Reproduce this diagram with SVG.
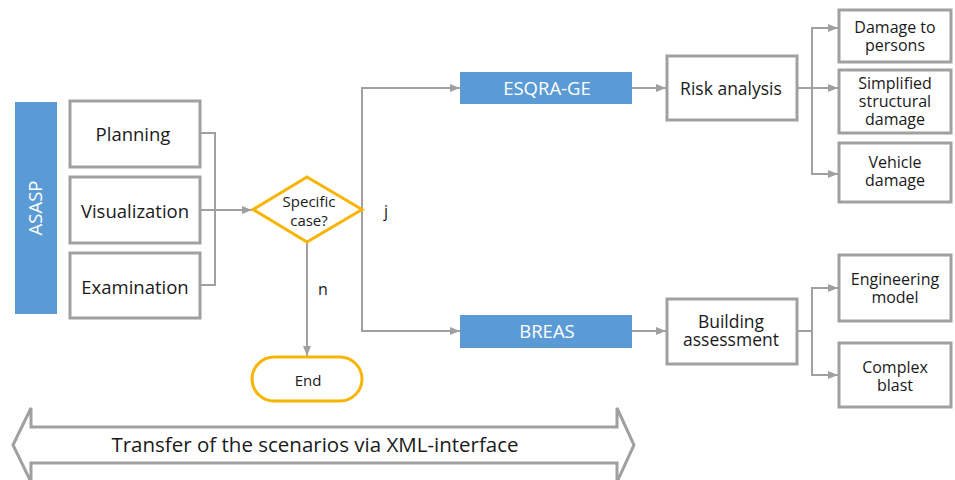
<svg xmlns="http://www.w3.org/2000/svg" width="955" height="480" viewBox="0 0 955 480">
<defs>
<marker id="ah" markerWidth="10" markerHeight="8" refX="10" refY="4" orient="auto" markerUnits="userSpaceOnUse">
<path d="M0,0 L10,4 L0,8 Z" fill="#a0a0a0"/>
</marker>
<style>
text{font-family:"Open Sans","Noto Sans",sans-serif;fill:#1a1a1a;text-anchor:middle}
.box{fill:#fff;stroke:#a0a0a0;stroke-width:3}
.blue{fill:#5b9bd5}
.bt{fill:#fff;font-size:18.5px}
.yl{fill:#fff;stroke:#f7b500;stroke-width:3}
.ln{fill:none;stroke:#a0a0a0;stroke-width:2}
.arr{fill:none;stroke:#a0a0a0;stroke-width:2;marker-end:url(#ah)}
.t18{font-size:18.5px}
.t17{font-size:17.5px}
.t15{font-size:16px}
.t14{font-size:15px}
</style>
</defs>
<rect width="955" height="480" fill="#fff"/>
<g id="connectors">
<polyline class="ln" points="200,133 215,133 215,285 200,285"/>
<line class="arr" x1="200" y1="210" x2="252" y2="210"/>
<polyline class="arr" points="362,209 362,88 460,88"/>
<polyline class="arr" points="362,209 362,331 460,331"/>
<line class="arr" x1="307" y1="242" x2="307" y2="356"/>
<line class="arr" x1="632" y1="88" x2="666" y2="88"/>
<line class="arr" x1="632" y1="331" x2="666" y2="331"/>
<polyline class="ln" points="797,88 812,88"/>
<polyline class="arr" points="812,88 812,28 838,28"/>
<line class="arr" x1="812" y1="88" x2="838" y2="88"/>
<polyline class="arr" points="812,88 812,174 838,174"/>
<polyline class="ln" points="797,331 812,331"/>
<polyline class="arr" points="812,331 812,288 838,288"/>
<polyline class="arr" points="812,331 812,375 838,375"/>
<text x="386" y="217" class="t15" fill="#333">j</text>
<text x="323" y="295" class="t15" fill="#333">n</text>
</g>
<g id="asasp">
<rect class="blue" x="15" y="102" width="42" height="212"/>
<text class="bt" transform="translate(42,208) rotate(-90)">ASASP</text>
</g>
<g id="planning">
<rect class="box" x="70" y="101" width="130" height="66"/>
<text x="133" y="141" class="t18">Planning</text>
</g>
<g id="visualization">
<rect class="box" x="70" y="177" width="130" height="66"/>
<text x="135" y="218" class="t18">Visualization</text>
</g>
<g id="examination">
<rect class="box" x="70" y="253" width="130" height="65"/>
<text x="135" y="294" class="t18">Examination</text>
</g>
<g id="specific">
<polygon class="yl" points="307,177 362,209.5 307,242 253,209.5"/>
<text x="309" y="207" class="t14">Specific</text>
<text x="309" y="226" class="t14">case?</text>
</g>
<g id="end">
<rect class="yl" x="252" y="357" width="110" height="44" rx="22"/>
<text x="308" y="386" class="t14">End</text>
</g>
<g id="esqra">
<rect class="blue" x="460" y="72" width="172" height="32"/>
<text x="547" y="95" class="bt">ESQRA-GE</text>
</g>
<g id="breas">
<rect class="blue" x="460" y="315" width="172" height="33"/>
<text x="547" y="338" class="bt">BREAS</text>
</g>
<g id="risk">
<rect class="box" x="667" y="56" width="130" height="64"/>
<text x="731" y="95" class="t17">Risk analysis</text>
</g>
<g id="building">
<rect class="box" x="667" y="299" width="130" height="65"/>
<text x="731" y="328" class="t17">Building</text>
<text x="731" y="346" class="t17">assessment</text>
</g>
<g id="damage-persons">
<rect class="box" x="839" y="10" width="112" height="52"/>
<text x="895" y="33" class="t15">Damage to</text>
<text x="895" y="51" class="t15">persons</text>
</g>
<g id="simplified">
<rect class="box" x="839" y="70" width="112" height="63"/>
<text x="895" y="89" class="t15">Simplified</text>
<text x="895" y="107" class="t15">structural</text>
<text x="895" y="125" class="t15">damage</text>
</g>
<g id="vehicle">
<rect class="box" x="839" y="143" width="112" height="59"/>
<text x="895" y="168" class="t15">Vehicle</text>
<text x="895" y="186" class="t15">damage</text>
</g>
<g id="engineering">
<rect class="box" x="839" y="255" width="112" height="66"/>
<text x="895" y="285" class="t15">Engineering</text>
<text x="895" y="303" class="t15">model</text>
</g>
<g id="complex">
<rect class="box" x="839" y="343" width="112" height="64"/>
<text x="895" y="373" class="t15">Complex</text>
<text x="895" y="391" class="t15">blast</text>
</g>
<g id="transfer">
<polygon points="13,445 31,408 31,427 617,427 617,408 634,445 617,482 617,463 31,463 31,482" fill="#fff" stroke="#a0a0a0" stroke-width="3" stroke-linejoin="miter"/>
<text x="315" y="452" style="font-size:20.5px">Transfer of the scenarios via XML-interface</text>
</g>
</svg>
